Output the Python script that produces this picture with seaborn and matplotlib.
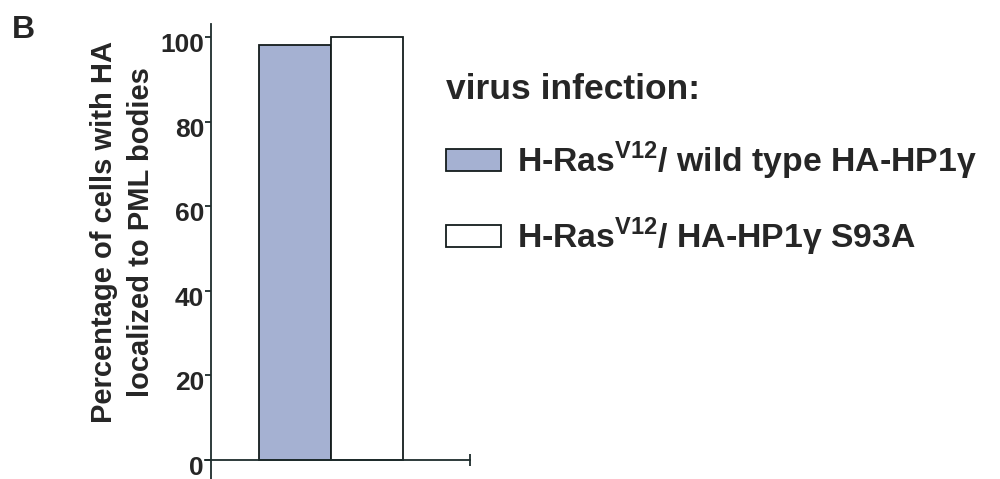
import matplotlib
matplotlib.use("Agg")
import matplotlib.pyplot as plt
import matplotlib.transforms as mtransforms
import seaborn as sns
import pandas as pd

series = [r"H-Ras$^{\mathbf{V12}}$/ wild type HA-HP1γ",
          r"H-Ras$^{\mathbf{V12}}$/ HA-HP1γ S93A"]
values = [98.0, 100.0]
colors = ["#9eaed9", "#ffffff"]
yticks = [0, 20, 40, 60, 80, 100]
ylabel = "Percentage of cells with HA\nlocalized to PML bodies"
legend_title = "virus infection:"
panel = "B"

sns.set_style("white")
plt.rcParams["font.family"] = ["Liberation Sans", "DejaVu Sans"]
plt.rcParams["font.weight"] = "bold"
plt.rcParams["mathtext.fontset"] = "custom"
plt.rcParams["mathtext.rm"] = "Liberation Sans:bold"
plt.rcParams["mathtext.bf"] = "Liberation Sans:bold"

df = pd.DataFrame({"series": series, "value": values})

fig = plt.figure(figsize=(10, 4.79), dpi=100)
ax = fig.add_axes([0.211, 0.0, 0.259, 0.95])

sns.barplot(data=df, x="series", y="value", hue="series", palette=colors,
            width=1.0, edgecolor="#141c1c", linewidth=1.3, legend=True, ax=ax)

ax.set_xlim(-1.167, 2.43)
ax.set_ylim(-4.49, 103.07)
ax.set_yticks(yticks)
ax.set_yticklabels([str(t) for t in yticks], fontsize=19, fontweight="bold")
ax.set_xticks([2.43])
ax.set_xticklabels([""])
ax.set_xlabel("")
ax.set_ylabel(ylabel, fontsize=21, fontweight="bold", linespacing=1.42)
ax.yaxis.set_label_coords(0.155, 1 - 232 / 479, transform=fig.transFigure)

axcol = "#1e2c2c"
for s in ["top", "right"]:
    ax.spines[s].set_visible(False)
ax.spines["left"].set_color(axcol)
ax.spines["bottom"].set_color(axcol)
ax.spines["left"].set_linewidth(1.3)
ax.spines["bottom"].set_linewidth(1.3)
ax.spines["bottom"].set_position(("data", 0))
ax.spines["bottom"].set_bounds(-1.25, 2.43)
ax.tick_params(axis="y", direction="out", length=4, width=1.3, color=axcol, pad=1, left=True)
ax.tick_params(axis="x", direction="inout", length=9, width=1.3, color=axcol, bottom=True)

offset = mtransforms.ScaledTranslation(0, -5.5 / 100, fig.dpi_scale_trans)
for tick in ax.yaxis.get_major_ticks():
    tick.label1.set_transform(tick.label1.get_transform() + offset)

handles, labels = ax.get_legend_handles_labels()
fs = 24.3
leg = ax.legend(handles, labels, title=legend_title, loc="upper left",
                bbox_to_anchor=(0.446, 1 - 73 / 479), bbox_transform=fig.transFigure,
                frameon=False, fontsize=fs, title_fontsize=25.5, borderpad=0,
                borderaxespad=0,
                handlelength=1.64, handleheight=0.62, labelspacing=1.0,
                handletextpad=0.45, alignment="left")
leg.get_title().set_fontweight("bold")
for t in leg.get_texts():
    t.set_fontweight("bold")

fig.text(0.012, 1 - 15 / 479, panel, fontsize=23, fontweight="bold", va="top", ha="left")

fig.savefig("out.png", dpi=100)
